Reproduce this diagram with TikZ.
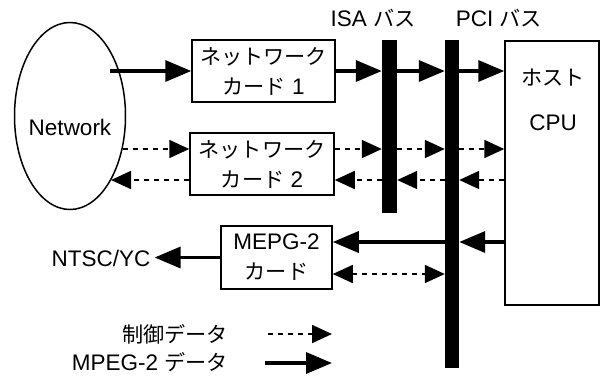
\documentclass[tikz,border=0pt]{standalone}
\usepackage{fontspec}
\setmainfont{Liberation Sans}
\newfontfamily\jp[Scale=0.94]{Noto Sans CJK JP}
\usetikzlibrary{arrows.meta,shapes.geometric}
\tikzset{
  box/.style={draw, line width=1.5pt, inner sep=0pt, align=center, font=\fontsize{22.5}{30}\selectfont},
  bus/.style={fill=black, inner sep=0pt},
  lbl/.style={inner sep=0pt, font=\fontsize{22.5}{25}\selectfont},
  solidarrow/.style={line width=3.5pt, -{Triangle[length=26pt,width=21pt]}},
  ctrl/.style={line width=1.7pt, dash pattern=on 5pt off 5pt, -{Triangle[length=20pt,width=18pt]}},
  ctrlboth/.style={line width=1.7pt, dash pattern=on 5pt off 5pt, {Triangle[length=20pt,width=18pt]}-{Triangle[length=20pt,width=18pt]}}
}
\begin{document}
\begin{tikzpicture}[x=1pt,y=-1pt]
\useasboundingbox (0,0) rectangle (601,376);
% network cloud
\node[draw, ellipse, line width=1.5pt, minimum width=111pt, minimum height=187pt, inner sep=0pt] (net) at (70,116) {};
\node[lbl] (netlabel) at (70,127) {Network};
% cards
\node[box, minimum width=143pt, minimum height=62pt] (nc1) at (263.5,71) {{\jp ネットワーク}\\{\jp カード} 1};
\node[box, minimum width=144pt, minimum height=62pt] (nc2) at (262,164) {{\jp ネットワーク}\\{\jp カード} 2};
\node[box, minimum width=111pt, minimum height=63pt] (mepg) at (276.5,257.5) {MEPG-2\\{\jp カード}};
% buses
\node[bus, minimum width=15pt, minimum height=173pt] (isa) at (389.5,126.5) {};
\node[bus, minimum width=14pt, minimum height=328pt] (pci) at (452,204) {};
\node[lbl] (isalabel) at (373,18) {ISA {\jp バス}};
\node[lbl] (pcilabel) at (499,18) {PCI {\jp バス}};
% host cpu
\node[draw, line width=1.5pt, minimum width=94pt, minimum height=264pt, inner sep=0pt] (cpu) at (552,173) {};
\node[lbl] (cpul1) at (553,78) {\jp ホスト};
\node[lbl] (cpul2) at (553,123) {CPU};
% output
\node[lbl, inner sep=4pt] (ntsc) at (101,258) {NTSC/YC};
% points on the ellipse
\coordinate (e1) at (110,71);
\coordinate (e2) at (123,149);
\coordinate (e3) at (111,180);
% row 1: MPEG data
\draw[solidarrow] (e1) -- (nc1.west |- e1);
\draw[solidarrow] (nc1.east |- e1) -- (isa.west |- e1);
\draw[solidarrow] (isa.east |- e1) -- (pci.west |- e1);
\draw[solidarrow] (pci.east |- e1) -- (cpu.west |- e1);
% row 2: control to host
\draw[ctrl] (e2) -- (nc2.west |- e2);
\draw[ctrl] (nc2.east |- e2) -- (isa.west |- e2);
\draw[ctrl] (isa.east |- e2) -- (pci.west |- e2);
\draw[ctrl] (pci.east |- e2) -- (cpu.west |- e2);
% row 3: control to network
\draw[ctrl] (nc2.west |- e3) -- (e3);
\draw[ctrl] (isa.west |- e3) -- (nc2.east |- e3);
\draw[ctrl] (pci.west |- e3) -- (isa.east |- e3);
\draw[ctrl] (cpu.west |- e3) -- (pci.east |- e3);
% MPEG card rows
\coordinate (m1) at ([yshift=15.5pt]mepg.east);
\coordinate (m2) at ([yshift=-16.5pt]mepg.east);
\draw[solidarrow] (pci.west |- m1) -- (m1);
\draw[solidarrow] (cpu.west |- m1) -- (pci.east |- m1);
\draw[ctrlboth] (m2) -- (pci.west |- m2);
\draw[solidarrow] (mepg.west) -- (mepg.west -| ntsc.east);
% legend
\node[lbl, anchor=east] (leg1) at (228,334) {\jp 制御データ};
\node[lbl, anchor=east] (leg2) at (228,362) {MPEG-2 {\jp データ}};
\coordinate (l1a) at (268,334);
\coordinate (l1b) at (332,334);
\coordinate (l2a) at (265,363);
\coordinate (l2b) at (332,363);
\draw[ctrl] (l1a) -- (l1b);
\draw[solidarrow] (l2a) -- (l2b);
\end{tikzpicture}
\end{document}
